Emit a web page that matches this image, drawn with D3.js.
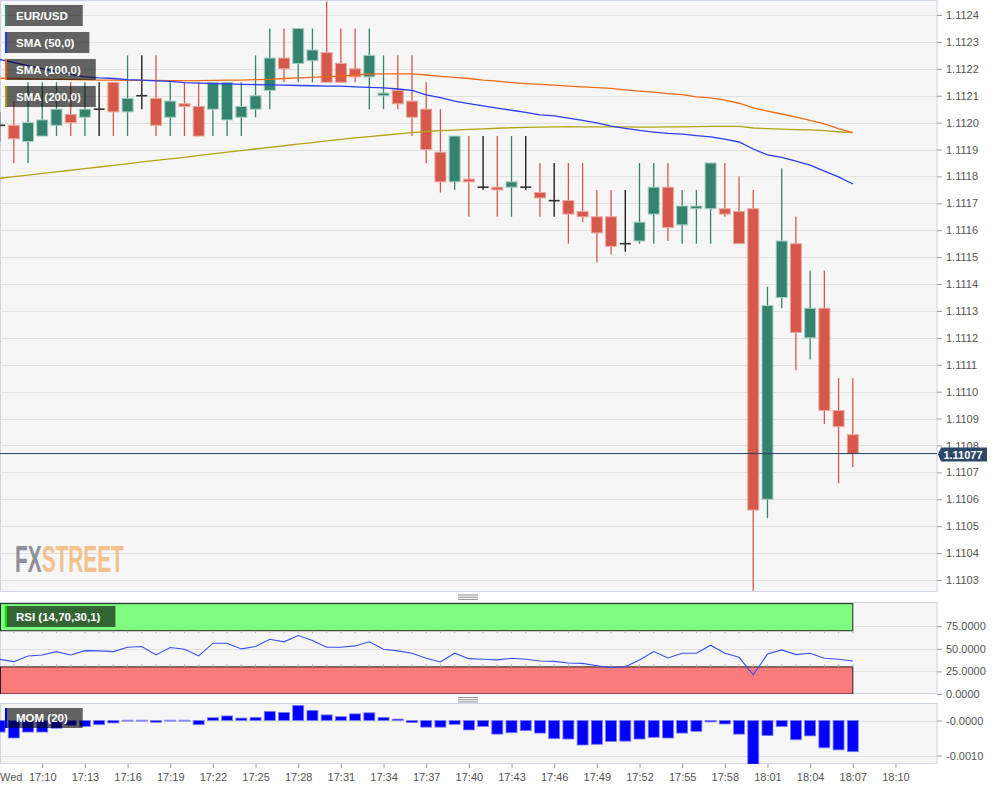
<!DOCTYPE html>
<html>
<head>
<meta charset="utf-8">
<script src="https://cdn.jsdelivr.net/npm/d3@7"></script>
<style>
  html,body{margin:0;padding:0;background:#ffffff;}
  svg{display:block;font-family:Arial,"Liberation Sans",sans-serif;}
</style>
</head>
<body>
<svg id="chart" width="1008" height="790"></svg>
<script>
// ---------- DATA (EUR/USD 1-minute candles, 17:07 .. 18:07) ----------
const firstSlot = "17:07";
const open  = [1.11199,1.11199,1.11193,1.11195,1.11199,1.11203,1.11202,1.11205,1.11215,1.11204,
               1.11210,1.11209,1.11202,1.11207,1.11206,1.11205,1.11201,1.11202,1.11205,1.11212,
               1.11224,1.11222,1.11223,1.11226,1.11222,1.11220,1.11217,1.11210,1.11212,1.11208,
               1.11205,1.11189,1.11178,1.11179,1.11176,1.11176,1.11176,1.11176,1.11174,1.11171,
               1.11171,1.11167,1.11165,1.11165,1.11155,1.11156,1.11166,1.11176,1.11162,1.11168,
               1.11168,1.11168,1.11167,1.11168,1.11060,1.11135,1.11155,1.11120,1.11131,1.11093,
               1.11084];
const high  = [1.11204,1.11208,1.11215,1.11215,1.11215,1.11215,1.11215,1.11215,1.11215,1.11225,
               1.11225,1.11225,1.11215,1.11215,1.11215,1.11215,1.11215,1.11215,1.11225,1.11235,
               1.11235,1.11235,1.11235,1.11245,1.11235,1.11235,1.11235,1.11225,1.11225,1.11225,
               1.11215,1.11205,1.11195,1.11195,1.11195,1.11195,1.11195,1.11195,1.11185,1.11185,
               1.11185,1.11185,1.11175,1.11175,1.11175,1.11185,1.11185,1.11185,1.11175,1.11175,
               1.11185,1.11185,1.11180,1.11175,1.11139,1.11183,1.11165,1.11145,1.11145,1.11105,
               1.11105];
const low   = [1.11193,1.11185,1.11185,1.11195,1.11195,1.11195,1.11195,1.11195,1.11195,1.11195,
               1.11205,1.11195,1.11195,1.11195,1.11195,1.11195,1.11195,1.11195,1.11202,1.11205,
               1.11215,1.11215,1.11215,1.11215,1.11215,1.11215,1.11205,1.11205,1.11205,1.11195,
               1.11185,1.11174,1.11175,1.11165,1.11175,1.11165,1.11165,1.11175,1.11165,1.11165,
               1.11155,1.11163,1.11148,1.11151,1.11152,1.11155,1.11155,1.11156,1.11155,1.11155,
               1.11155,1.11165,1.11155,1.11026,1.11053,1.11131,1.11108,1.11112,1.11088,1.11066,
               1.11072];
const close = [1.11199,1.11194,1.11200,1.11201,1.11205,1.11200,1.11205,1.11205,1.11204,1.11209,
               1.11210,1.11199,1.11208,1.11206,1.11195,1.11215,1.11215,1.11206,1.11210,1.11224,
               1.11220,1.11235,1.11227,1.11215,1.11215,1.11217,1.11225,1.11211,1.11207,1.11202,
               1.11190,1.11178,1.11195,1.11178,1.11176,1.11175,1.11178,1.11176,1.11172,1.11171,
               1.11166,1.11165,1.11159,1.11154,1.11155,1.11163,1.11176,1.11161,1.11169,1.11169,
               1.11185,1.11166,1.11155,1.11056,1.11132,1.11156,1.11122,1.11131,1.11093,1.11087,
               1.11077];
const sma50 = [1.112235,1.112223,1.112212,1.112201,1.112190,1.112179,1.112170,1.112166,1.112164,1.112160,
               1.112158,1.112155,1.112153,1.112149,1.112147,1.112145,1.112144,1.112142,1.112141,1.112140,
               1.112139,1.112138,1.112137,1.112136,1.112136,1.112133,1.112131,1.112129,1.112125,1.112120,
               1.112103,1.112093,1.112080,1.112071,1.112062,1.112054,1.112046,1.112038,1.112029,1.112025,
               1.112017,1.112008,1.111999,1.111987,1.111979,1.111971,1.111965,1.111960,1.111957,1.111952,
               1.111947,1.111939,1.111928,1.111902,1.111880,1.111871,1.111857,1.111842,1.111820,1.111798,
               1.111772];
const sma100= [1.112165,1.112164,1.112163,1.112162,1.112161,1.112160,1.112159,1.112158,1.112158,1.112157,
               1.112157,1.112157,1.112156,1.112156,1.112156,1.112157,1.112158,1.112158,1.112160,1.112161,
               1.112164,1.112166,1.112168,1.112171,1.112173,1.112177,1.112180,1.112181,1.112181,1.112181,
               1.112177,1.112172,1.112168,1.112164,1.112158,1.112154,1.112149,1.112145,1.112142,1.112139,
               1.112136,1.112133,1.112130,1.112127,1.112122,1.112117,1.112113,1.112108,1.112104,1.112096,
               1.112092,1.112084,1.112072,1.112055,1.112043,1.112032,1.112020,1.112008,1.111995,1.111978,
               1.111963];
const sma200= [1.111793,1.111799,1.111805,1.111811,1.111817,1.111823,1.111829,1.111835,1.111841,1.111847,
               1.111854,1.111860,1.111865,1.111871,1.111878,1.111884,1.111890,1.111896,1.111902,1.111908,
               1.111914,1.111920,1.111926,1.111932,1.111938,1.111943,1.111948,1.111953,1.111958,1.111963,
               1.111967,1.111970,1.111972,1.111975,1.111977,1.111979,1.111981,1.111982,1.111983,1.111984,
               1.111985,1.111984,1.111984,1.111984,1.111984,1.111983,1.111983,1.111984,1.111984,1.111985,
               1.111986,1.111986,1.111986,1.111980,1.111978,1.111976,1.111974,1.111973,1.111970,1.111966,
               1.111963];
const rsi   = [38.4,35.8,42.1,43.2,46.9,43.2,48.0,47.7,46.9,51.7,
               52.5,43.2,51.4,49.5,42.1,56.2,56.2,49.9,52.5,60.6,
               57.7,64.7,59.2,51.7,51.7,53.2,57.7,49.5,47.7,45.1,
               39.5,35.4,45.1,39.1,38.4,37.7,39.5,38.4,36.5,36.1,
               34.3,33.9,31.3,29.0,30.2,37.6,46.9,39.8,45.0,45.0,
               54.0,45.0,40.6,21.2,44.2,48.8,43.6,45.0,39.5,38.4,
               36.5];
const mom   = [-0.00033,-0.00050,-0.00033,-0.00033,-0.00022,-0.00014,-0.00017,-0.00012,-0.00007,0.00001,
                0.00001,-0.00005,0.00001,0.00001,-0.00012,0.00008,0.00013,0.00007,0.00009,0.00026,
                0.00023,0.00043,0.00029,0.00016,0.00011,0.00019,0.00022,0.00009,0.00004,-0.00006,
               -0.00019,-0.00019,-0.00011,-0.00027,-0.00017,-0.00039,-0.00035,-0.00029,-0.00036,-0.00052,
               -0.00053,-0.00070,-0.00068,-0.00060,-0.00059,-0.00053,-0.00048,-0.00050,-0.00036,-0.00031,
               -0.00004,-0.00010,-0.00039,-0.00125,-0.00043,-0.00017,-0.00055,-0.00044,-0.00078,-0.00084,
               -0.00089];
const lastPrice = 1.11077;
const priceTicks = [1.1103,1.1104,1.1105,1.1106,1.1107,1.1108,1.1109,1.1110,1.1111,1.1112,1.1113,
                    1.1114,1.1115,1.1116,1.1117,1.1118,1.1119,1.1120,1.1121,1.1122,1.1123,1.1124];
const rsiTicks = [0,25,50,75];
const rsiBands = [70,100,0,30];
const momTicks = [0,-0.001];
const timeTicks = ["17:10","17:13","17:16","17:19","17:22","17:25","17:28","17:31","17:34","17:37",
                   "17:40","17:43","17:46","17:49","17:52","17:55","17:58","18:01","18:04","18:07","18:10"];
const dayLabel = "Wed";
const legendItems = [
  {label:"EUR/USD",      color:"#2e8b72"},
  {label:"SMA (50,0)",   color:"#1f35ff"},
  {label:"SMA (100,0)",  color:"#f06010"},
  {label:"SMA (200,0)",  color:"#a99600"}
];

// ---------- LAYOUT ----------
const W = 937;
const main = {top:0, bottom:592};
const rsiP = {top:602, bottom:694};
const momP = {top:703, bottom:764};

const svg = d3.select("#chart");
const idx = d3.range(open.length);
function toIdx(t){ const [h,m]=t.split(":").map(Number); const [h0,m0]=firstSlot.split(":").map(Number); return h*60+m-(h0*60+m0); }

const x = d3.scaleLinear().domain([0,60]).range([-0.4,852.8]);
const y = d3.scaleLinear().domain([1.1103,1.1124]).range([580,15]);
const yR = d3.scaleLinear().domain([0,100]).range([694,603.6]);
const yM = d3.scaleLinear().domain([0,-0.001]).range([720.5,755.5]);

const defs = svg.append("defs");
function clip(id,top,bottom){
  defs.append("clipPath").attr("id",id).append("rect").attr("x",0).attr("y",top).attr("width",W).attr("height",bottom-top);
}
clip("cMain",main.top,main.bottom); clip("cRsi",rsiP.top,rsiP.bottom); clip("cMom",momP.top,momP.bottom);

function panel(p){
  svg.append("rect").attr("x",0.5).attr("y",p.top+0.5).attr("width",W-0.5).attr("height",p.bottom-p.top-1)
     .attr("fill","#f6f6f6").attr("stroke","#cdd2e4").attr("stroke-width",1);
}
panel(main); panel(rsiP); panel(momP);

function handle(yy){
  [0,2.2,4.4].forEach(d=>svg.append("line").attr("x1",458).attr("x2",478).attr("y1",yy+d).attr("y2",yy+d)
       .attr("stroke","#6e6e6e").attr("stroke-width",0.8));
}
handle(595); handle(697.5);

// ---------- MAIN PANEL ----------
const gMain = svg.append("g").attr("clip-path","url(#cMain)");
gMain.selectAll("line.grid").data(priceTicks).join("line").attr("class","grid")
  .attr("x1",0).attr("x2",W).attr("y1",d=>Math.round(y(d))+0.5).attr("y2",d=>Math.round(y(d))+0.5)
  .attr("stroke","#e1e1e1").attr("stroke-width",1);

// watermark (single text, horizontally condensed)
{
  const wm = svg.append("text").attr("transform","translate(15,572) scale(0.553,1)")
    .attr("font-size",37.7).attr("font-weight","bold");
  wm.append("tspan").attr("fill","#8c8f97").text("FX");
  wm.append("tspan").attr("fill","#f3c18c").text("STREET");
}

const RED="#d5584a", GREEN="#34836f", RED_EDGE="#eba89f", GREEN_EDGE="#a6cdc2";
const bw = 11;
const candles = gMain.selectAll("g.c").data(idx).join("g").attr("class","c");
candles.append("line")
  .attr("x1",i=>x(i)).attr("x2",i=>x(i)).attr("y1",i=>y(high[i])).attr("y2",i=>y(low[i]))
  .attr("stroke",i=>close[i]>open[i]?GREEN:(close[i]<open[i]?RED:"#111")).attr("stroke-width",1.3);
candles.filter(i=>close[i]!==open[i]).append("rect")
  .attr("x",i=>x(i)-bw/2).attr("width",bw)
  .attr("y",i=>y(Math.max(open[i],close[i])))
  .attr("height",i=>Math.max(2,Math.abs(y(open[i])-y(close[i]))))
  .attr("fill",i=>close[i]>open[i]?GREEN:RED)
  .attr("stroke",i=>close[i]>open[i]?GREEN_EDGE:RED_EDGE).attr("stroke-width",1);
candles.filter(i=>close[i]===open[i]).append("line")
  .attr("x1",i=>x(i)-bw/2).attr("x2",i=>x(i)+bw/2).attr("y1",i=>y(close[i])).attr("y2",i=>y(close[i]))
  .attr("stroke","#333").attr("stroke-width",1.6);

const lineOf = arr => d3.line().x(i=>x(i)).y(i=>y(arr[i])).curve(d3.curveLinear);
[[sma200,"#b5a212"],[sma100,"#f26b12"],[sma50,"#2a3df2"]].forEach(([arr,c])=>{
  gMain.append("path").datum(idx).attr("d",lineOf(arr)).attr("fill","none").attr("stroke",c).attr("stroke-width",1.3);
});

gMain.append("line").attr("x1",0).attr("x2",W).attr("y1",y(lastPrice)).attr("y2",y(lastPrice))
  .attr("stroke","#2c3f5e").attr("stroke-width",1);

const axMain = svg.append("g").attr("transform",`translate(${W},0)`)
  .call(d3.axisRight(y).tickValues(priceTicks).tickFormat(d3.format(".4f")).tickSize(5).tickPadding(4));

function labelBox(text,top,h,stripe){
  const g = svg.append("g");
  const bg = g.append("rect").attr("x",5).attr("y",top).attr("height",h).attr("fill","rgba(0,0,0,0.6)");
  const t = g.append("text").attr("x",16).attr("y",top+h/2+4).attr("fill","#fff").attr("font-size",11.5)
    .attr("font-weight","bold").text(text);
  bg.attr("width",t.node().getComputedTextLength()+11+15);
  g.append("rect").attr("x",5).attr("y",top).attr("width",2).attr("height",h).attr("fill",stripe);
}
legendItems.forEach((d,k)=>labelBox(d.label,5+k*27,21,d.color));

// ---------- RSI PANEL ----------
const gR = svg.append("g").attr("clip-path","url(#cRsi)");
gR.selectAll("line.grid").data(rsiTicks.filter(d=>d>0)).join("line").attr("class","grid")
  .attr("x1",0).attr("x2",W).attr("y1",d=>Math.round(yR(d))+0.5).attr("y2",d=>Math.round(yR(d))+0.5)
  .attr("stroke","#e1e1e1");
const bandRight = x(open.length-1);
gR.append("rect").attr("x",0.5).attr("y",yR(rsiBands[1])).attr("width",bandRight-0.5).attr("height",yR(rsiBands[0])-yR(rsiBands[1]))
  .attr("fill","#7ffb7f").attr("stroke","#1c2a1c").attr("stroke-width",1);
gR.append("rect").attr("x",0.5).attr("y",yR(rsiBands[3])).attr("width",bandRight-0.5).attr("height",yR(rsiBands[2])-yR(rsiBands[3]))
  .attr("fill","#fa7b7b").attr("stroke","#2a1a1a").attr("stroke-width",1);
gR.selectAll("line.bt").data(idx).join("line").attr("class","bt")
  .attr("x1",i=>x(i)).attr("x2",i=>x(i)).attr("y1",yR(rsiBands[0])).attr("y2",yR(rsiBands[0])+2.5)
  .attr("stroke","#b0b0b0");
gR.selectAll("line.bt2").data(idx).join("line").attr("class","bt2")
  .attr("x1",i=>x(i)).attr("x2",i=>x(i)).attr("y1",yR(rsiBands[3])-2.5).attr("y2",yR(rsiBands[3]))
  .attr("stroke","#b0b0b0");
gR.append("path").datum(idx).attr("d",d3.line().x(i=>x(i)).y(i=>yR(rsi[i]))).attr("fill","none")
  .attr("stroke","#3350f5").attr("stroke-width",1.1);
const axR = svg.append("g").attr("transform",`translate(${W},0)`)
  .call(d3.axisRight(yR).tickValues(rsiTicks).tickFormat(d3.format(".4f")).tickSize(5).tickPadding(4));
labelBox("RSI (14,70,30,1)",606,21,"#00e000");

// ---------- MOM PANEL ----------
const gM = svg.append("g").attr("clip-path","url(#cMom)");
gM.selectAll("line.grid").data(momTicks).join("line").attr("class","grid")
  .attr("x1",0).attr("x2",W).attr("y1",d=>Math.round(yM(d))+0.5).attr("y2",d=>Math.round(yM(d))+0.5)
  .attr("stroke","#e1e1e1");
gM.selectAll("rect.m").data(idx).join("rect").attr("class","m")
  .attr("x",i=>x(i)-bw/2).attr("width",bw)
  .attr("y",i=>Math.min(yM(0),yM(mom[i])))
  .attr("height",i=>Math.max(1,Math.abs(yM(mom[i])-yM(0))))
  .attr("fill",i=>Math.abs(mom[i])<0.00002?"#9fa6ff":"#0000ff")
  .attr("stroke","#7d7dff").attr("stroke-width",0.8);
const axM = svg.append("g").attr("transform",`translate(${W},0)`)
  .call(d3.axisRight(yM).tickValues(momTicks).tickFormat(d=>"-"+Math.abs(d).toFixed(4)).tickSize(5).tickPadding(4));
labelBox("MOM (20)",708,20,"#0000ff");

// ---------- X AXIS ----------
const axX = svg.append("g").attr("transform",`translate(0,${momP.bottom})`)
  .call(d3.axisBottom(x).tickValues(timeTicks.map(toIdx)).tickFormat((d,i)=>timeTicks[i]).tickSize(4).tickPadding(5));
svg.append("text").attr("x",0).attr("y",781).attr("font-size",11).attr("fill","#555").text(dayLabel);

[axMain,axR,axM,axX].forEach(a=>{
  a.select(".domain").remove();
  a.selectAll(".tick line").attr("stroke","#9a9a9a");
  a.selectAll(".tick text").attr("fill","#555").attr("font-size",11).attr("font-family","Arial, 'Liberation Sans', sans-serif");
});

// last price label on top
{
  const yy = Math.round(y(lastPrice))+0.5;
  svg.append("path").attr("d",`M${W+1},${yy} L${W+4},${yy-7} L987,${yy-7} L987,${yy+7} L${W+4},${yy+7} Z`)
    .attr("fill","#2d4769");
  svg.append("text").attr("x",963).attr("y",yy+4).attr("text-anchor","middle").attr("fill","#fff")
    .attr("font-size",11).attr("font-weight","bold").text(d3.format(".5f")(lastPrice));
}
</script>
</body>
</html>
